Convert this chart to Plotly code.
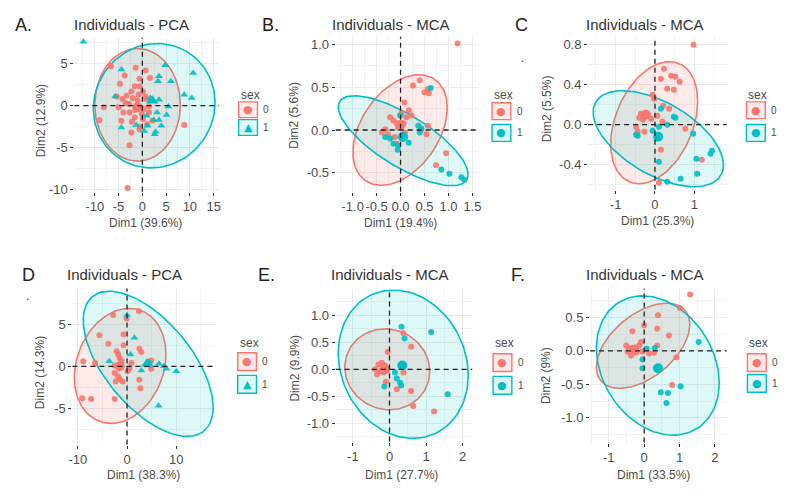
import numpy as np
import plotly.graph_objects as go

W, H = 800, 503          # target window
OFF = 8                  # default page margin around the plot div
FW, FH = W - 2 * OFF, H - 2 * OFF
RED, TEAL = "#F8766D", "#00BFC4"
RED_FILL = "rgba(248,118,109,0.15)"
TEAL_FILL = "rgba(0,191,196,0.13)"
FONT = "Liberation Sans, Arial, sans-serif"

# ---------------- Panel A : Individuals - PCA ----------------
A_x0 = [-6.6, -1.4, 0.7, -3.7, -0.6, 1.6, -4.7, -1.6, -0.6, -2.3, 0.1, -3.3, -5.4, -2.0, 0.7, -1.0, -2.8, -8.1, -5.0, 1.4,
        -4.0, -2.7, -0.1, 1.4, -1.6, 0.1, -4.4, 2.1, -0.5, -0.6, -2.3, -9.0, 8.8, -2.7, -3.1, 0.7, -4.2,
        -1.5, -3.5, 0.3, -2.2, -0.8, 1.0]
A_y0 = [4.7, 4.5, 4.2, 3.6, 3.2, 3.3, 2.6, 2.3, 2.3, 1.7, 1.7, 1.2, 1.1, 0.9, 1.1, 0.6, 0.2, -0.2, -0.2, -0.1,
        -0.8, -0.8, -1.0, -0.8, -1.4, -1.6, -1.8, -1.8, -2.5, -2.8, -3.2, -1.7, -2.3, -4.7, -9.8, 0.8, 0.8,
        -0.5, 0.3, -0.4, -1.9, 1.3, -2.2]
A_x1 = [-12.4, -4.4, 4.8, 10.7, 3.5, 3.3, 6.0, -5.7, 8.8, 10.4, 1.7, 3.5, 5.5, 3.1, 5.1, 0.9, 2.4, 3.5, -1.3, -4.4,
        2.8, 2.6, 0.4, 1.1, 4.0]
A_y1 = [7.6, 4.3, 4.8, 3.9, 3.5, 2.9, 2.9, 1.1, 1.3, 0.9, 0.9, 0.7, -0.1, -0.8, -1.1, -1.2, -1.7, -1.7, -2.3, -2.6,
        -3.1, -3.4, -3.0, -2.4, -2.4]
A_mean0 = [-1.0, -0.2]
A_mean1 = [2.1, 0.6]
A_ell0 = [-1.0, 0.1, 9.0, 6.7, 0.0]      # cx, cy, half-width, half-height, tilt
A_ell1 = [2.5, 0.0, 12.8, 7.4, 0.05]
A_xticks = [-10, -5, 0, 5, 10, 15]
A_xlabels = ["-10", "-5", "0", "5", "10", "15"]
A_yticks = [-10, -5, 0, 5]
A_ylabels = ["-10", "-5", "0", "5"]

# ---------------- Panel B : Individuals - MCA ----------------
B_x0 = [1.19, 0.26, 0.40, 0.50, 0.57, 0.59, 0.08, 0.17, 0.02, 0.12, 0.23, -0.22, -0.15, -0.08, -0.01, 0.06, -0.05,
        -0.32, -0.39, -0.26, -0.12, 0.09, 0.43, 0.57, 0.54, 0.95, 0.74, -0.08]
B_y0 = [1.01, 0.52, 0.58, 0.44, 0.48, 0.43, 0.32, 0.23, 0.20, 0.15, 0.17, 0.15, 0.11, 0.08, 0.07, 0.08, 0.03,
        0.01, -0.03, -0.05, -0.08, -0.03, 0.00, 0.05, -0.05, -0.27, -0.41, -0.16]
B_x1 = [0.63, -0.01, 0.37, 0.43, 0.40, -0.32, -0.22, 0.17, -0.05, -0.06, -0.15, 0.85, 1.02, 1.27, 1.33]
B_y1 = [0.49, 0.17, 0.05, 0.02, -0.03, -0.08, -0.10, -0.15, -0.18, -0.23, -0.16, -0.46, -0.51, -0.55, -0.58]
B_mean0 = [0.0, 0.06]
B_mean1 = [0.05, -0.08]
B_ell0 = [-0.01, 0.0, 0.985, 0.645, 0.4]
B_ell1 = [0.055, -0.125, 1.355, 0.525, -0.75]
B_xticks = [-1.0, -0.5, 0.0, 0.5, 1.0, 1.5]
B_xlabels = ["-1.0", "-0.5", "0.0", "0.5", "1.0", "1.5"]
B_yticks = [-0.5, 0.0, 0.5, 1.0]
B_ylabels = ["-0.5", "0.0", "0.5", "1.0"]

# ---------------- Panel C : Individuals - MCA ----------------
C_x0 = [0.98, 0.23, 0.41, 0.52, 0.63, 0.15, 0.31, 0.48, -0.06, -0.02, 0.21, 0.36, -0.36, -0.23, -0.40, -0.31, -0.10,
        0.19, 0.06, 0.77, -0.48, -0.44, -0.27, 0.15, 1.19, 0.10]
C_y0 = [0.80, 0.56, 0.49, 0.48, 0.43, 0.46, 0.36, 0.35, 0.30, 0.26, 0.19, 0.16, 0.11, 0.10, 0.07, 0.05, 0.06,
        0.03, 0.09, -0.04, -0.02, -0.07, -0.07, -0.25, -0.35, -0.58]
C_x1 = [0.15, 0.48, 0.52, 0.31, 0.10, -0.06, -0.48, -0.44, 0.10, 0.97, 1.41, 1.45, 1.05, 1.07, 0.65, 0.31]
C_y1 = [0.16, 0.08, 0.07, 0.00, -0.02, -0.06, -0.10, -0.11, -0.37, -0.09, -0.29, -0.26, -0.34, -0.49, -0.54, -0.57]
C_mean0 = [-0.23, 0.10]
C_mean1 = [0.08, -0.12]
C_ell0 = [-0.02, 0.02, 1.105, 0.61, 0.35]
C_ell1 = [0.085, -0.14, 1.655, 0.48, -0.55]
C_xticks = [-1, 0, 1]
C_xlabels = ["-1", "0", "1"]
C_yticks = [-0.4, 0.0, 0.4, 0.8]
C_ylabels = ["-0.4", "0.0", "0.4", "0.8"]

# ---------------- Panel D : Individuals - PCA ----------------
D_x0 = [-2.8, 2.4, -0.1, -5.6, -3.8, -0.7, 2.5, 2.9, -2.1, -1.8, -1.5, -1.1, -2.5, 0.9, -8.9, -6.5, 0.5, 0.1, -2.5,
        -1.8, -1.5, -2.3, -0.9, 2.5, 4.9, -9.1, -7.3, -2.5, 2.7, 4.9, -0.7]
D_y0 = [6.1, 6.6, 5.7, 3.7, 2.7, 3.8, 2.1, 1.7, 1.8, 1.4, 1.0, 0.6, 0.1, 0.4, 0.6, 0.4, -0.2, -0.6, -0.8,
        -1.2, -1.5, -1.8, -1.8, -1.6, -0.3, -3.8, -3.9, -3.9, -2.6, 0.7, 2.5]
D_x1 = [0.0, 1.5, 0.7, -3.6, 4.5, 4.2, 6.5, 7.5, 8.0, 10.0, 6.4, 2.9]
D_y1 = [6.1, 3.4, 1.4, 0.6, 0.5, 0.1, 0.3, 0.0, -0.3, -0.6, -4.7, -0.5]
D_mean0 = [-1.5, 0.0]
D_mean1 = [4.1, 0.3]
D_ell0 = [-1.4, 0.05, 9.3, 6.85, 0.2]
D_ell1 = [4.3, 0.3, 13.2, 8.65, -0.6]
D_xticks = [-10, 0, 10]
D_xlabels = ["-10", "0", "10"]
D_yticks = [-5, 0, 5]
D_ylabels = ["-5", "0", "5"]

# ---------------- Panel E : Individuals - MCA ----------------
E_x0 = [0.38, 0.59, -0.05, -0.30, -0.21, -0.12, -0.39, -0.25, -0.34, -0.16, 0.38, -0.10, 0.20, 0.59, 0.65, 1.22]
E_y0 = [0.67, 0.42, 0.32, 0.09, 0.12, 0.07, 0.00, -0.03, -0.09, -0.06, -0.06, -0.23, -0.37, -0.40, -0.68, -0.78]
E_x1 = [0.33, 1.14, 0.41, 0.20, 0.29, 0.32, -0.14, 1.59, 0.15]
E_y1 = [0.79, 0.69, 0.57, -0.17, -0.25, -0.30, -0.32, -0.46, -0.06]
E_mean0 = [-0.12, 0.0]
E_mean1 = [0.35, 0.07]
E_ell0 = [-0.06, 0.0, 1.16, 0.75, -0.05]
E_ell1 = [0.375, 0.095, 1.775, 1.375, -0.15]
E_xticks = [-1, 0, 1, 2]
E_xlabels = ["-1", "0", "1", "2"]
E_yticks = [-1.0, -0.5, 0.0, 0.5, 1.0]
E_ylabels = ["-1.0", "-0.5", "0.0", "0.5", "1.0"]

# ---------------- Panel F : Individuals - MCA ----------------
F_x0 = [1.30, 1.01, 0.39, 0.00, -0.33, 0.37, 0.70, 0.37, -0.51, -0.42, -0.47, -0.28, -0.14, -0.09, -0.37, -0.23,
        -0.05, 0.14, 0.28, 0.91, 0.79]
F_y0 = [0.84, 0.64, 0.53, 0.38, 0.29, 0.33, 0.23, 0.08, 0.08, 0.04, -0.01, 0.02, 0.08, 0.13, -0.07, -0.03,
        -0.01, -0.04, -0.03, -0.10, -0.51]
F_x1 = [1.54, 0.07, -0.05, 0.30, 0.47, 0.67, 1.03, 0.63, -0.05]
F_y1 = [0.13, 0.03, -0.26, 0.04, -0.62, -0.63, -0.53, -0.78, -0.13]
F_mean0 = [-0.28, 0.02]
F_mean1 = [0.39, -0.26]
F_ell0 = [-0.03, 0.075, 1.32, 0.635, 0.5]
F_ell1 = [0.385, -0.22, 1.735, 1.04, -0.25]
F_xticks = [-1, 0, 1, 2]
F_xlabels = ["-1", "0", "1", "2"]
F_yticks = [-1.0, -0.5, 0.0, 0.5]
F_ylabels = ["-1.0", "-0.5", "0.0", "0.5"]

titles = ["Individuals - PCA", "Individuals - MCA", "Individuals - MCA",
          "Individuals - PCA", "Individuals - MCA", "Individuals - MCA"]
letters = ["A.", "B.", "C", "D", "E.", "F."]
xtitles = ["Dim1 (39.6%)", "Dim1 (19.4%)", "Dim1 (25.3%)", "Dim1 (38.3%)", "Dim1 (27.7%)", "Dim1 (33.5%)"]
ytitles = ["Dim2 (12.9%)", "Dim2 (5.6%)", "Dim2 (5.5%)", "Dim2 (14.3%)", "Dim2 (9.9%)", "Dim2 (9%)"]
group_labels = ["0", "1"]


def px(x):
    return (x - OFF) / FW


def py(y):
    return 1 - (y - OFF) / FH


def ellipse(p, n=120):
    cx, cy, rx, ry, rho = p
    t = np.linspace(0, 2 * np.pi, n)
    return cx + rx * np.cos(t), cy + ry * (rho * np.cos(t) + np.sqrt(1 - rho ** 2) * np.sin(t))


def minor_between(ticks, lo, hi):
    step = ticks[1] - ticks[0]
    v = ticks[0] - step / 2
    while v > lo:
        v -= step
    v += step
    vals = []
    while v < hi:
        vals.append(round(v, 6))
        v += step
    return vals


# layout geometry (pixels): plot box, axis ranges, and text placements
panels = [
    dict(d=dict(x0=A_x0, y0=A_y0, x1=A_x1, y1=A_y1, m0=A_mean0, m1=A_mean1, e0=A_ell0, e1=A_ell1,
                xt=A_xticks, xl=A_xlabels, yt=A_yticks, yl=A_ylabels), tri=True,
         box=(71, 38, 217, 194), xr=(-14.3, 16.1), yr=(-10.24, 8.1),
         title=(129, 25), letter=(9, 25), xtitle=(143, 226), ytitle=(37, 122),
         leg=(237, 96, 103, 121, 19, 16)),
    dict(d=dict(x0=B_x0, y0=B_y0, x1=B_x1, y1=B_y1, m0=B_mean0, m1=B_mean1, e0=B_ell0, e1=B_ell1,
                xt=B_xticks, xl=B_xlabels, yt=B_yticks, yl=B_ylabels), tri=False,
         box=(335, 37, 478, 194), xr=(-1.355, 1.60), yr=(-0.72, 1.09),
         title=(391, 25), letter=(259, 25), xtitle=(400, 226), ytitle=(293, 117),
         leg=(493, 96, 104, 126, 19, 17)),
    dict(d=dict(x0=C_x0, y0=C_y0, x1=C_x1, y1=C_y1, m0=C_mean0, m1=C_mean1, e0=C_ell0, e1=C_ell1,
                xt=C_xticks, xl=C_xlabels, yt=C_yticks, yl=C_ylabels), tri=False,
         box=(590, 37, 730, 192), xr=(-1.70, 1.82), yr=(-0.65, 0.88),
         title=(648, 25), letter=(514, 25), xtitle=(660, 224), ytitle=(548, 110),
         leg=(750, 96, 103, 126, 19, 17)),
    dict(d=dict(x0=D_x0, y0=D_y0, x1=D_x1, y1=D_y1, m0=D_mean0, m1=D_mean1, e0=D_ell0, e1=D_ell1,
                xt=D_xticks, xl=D_xlabels, yt=D_yticks, yl=D_ylabels), tri=True,
         box=(69, 292, 213, 450), xr=(-11.1, 17.85), yr=(-9.32, 9.27),
         title=(122, 278), letter=(16, 278), xtitle=(141, 481), ytitle=(37, 377),
         leg=(236, 347, 357, 380, 19, 18)),
    dict(d=dict(x0=E_x0, y0=E_y0, x1=E_x1, y1=E_y1, m0=E_mean0, m1=E_mean1, e0=E_ell0, e1=E_ell1,
                xt=E_xticks, xl=E_xlabels, yt=E_yticks, yl=E_ylabels), tri=False,
         box=(335, 293, 473, 447), xr=(-1.47, 2.26), yr=(-1.34, 1.48),
         title=(390, 278), letter=(255, 278), xtitle=(402, 481), ytitle=(293, 373),
         leg=(494, 347, 358, 381, 19, 18)),
    dict(d=dict(x0=F_x0, y0=F_y0, x1=F_x1, y1=F_y1, m0=F_mean0, m1=F_mean1, e0=F_ell0, e1=F_ell1,
                xt=F_xticks, xl=F_xlabels, yt=F_yticks, yl=F_ylabels), tri=False,
         box=(592, 292, 730, 448), xr=(-1.53, 2.33), yr=(-1.37, 0.93),
         title=(648, 278), letter=(510, 278), xtitle=(656, 481), ytitle=(548, 380),
         leg=(751, 347, 358, 379, 19, 18)),
]

fig = go.Figure()
annotations = []
shapes = []
layout_axes = {}

for i, p in enumerate(panels):
    n = i + 1
    xa = "x" if n == 1 else f"x{n}"
    ya = "y" if n == 1 else f"y{n}"
    d = p["d"]
    sym1 = "triangle-up" if p["tri"] else "circle"

    for e, col, fill in ((d["e0"], RED, RED_FILL), (d["e1"], TEAL, TEAL_FILL)):
        ex, ey = ellipse(e)
        fig.add_trace(go.Scatter(x=ex, y=ey, mode="lines", fill="toself", fillcolor=fill,
                                 line=dict(color=col, width=1.6), xaxis=xa, yaxis=ya,
                                 showlegend=False, hoverinfo="skip"))
    fig.add_trace(go.Scatter(x=d["x0"], y=d["y0"], mode="markers", xaxis=xa, yaxis=ya, showlegend=False,
                             marker=dict(color=RED, size=6, symbol="circle", opacity=0.9, line=dict(width=0))))
    fig.add_trace(go.Scatter(x=d["x1"], y=d["y1"], mode="markers", xaxis=xa, yaxis=ya, showlegend=False,
                             marker=dict(color=TEAL, size=7 if p["tri"] else 6, symbol=sym1, opacity=0.9,
                                         line=dict(width=0))))
    fig.add_trace(go.Scatter(x=[d["m0"][0]], y=[d["m0"][1]], mode="markers", xaxis=xa, yaxis=ya,
                             showlegend=False, marker=dict(color=RED, size=10, symbol="circle")))
    fig.add_trace(go.Scatter(x=[d["m1"][0]], y=[d["m1"][1]], mode="markers", xaxis=xa, yaxis=ya,
                             showlegend=False, marker=dict(color=TEAL, size=11 if p["tri"] else 10, symbol=sym1)))

    bx0, by0, bx1, by1 = p["box"]
    common = dict(showgrid=True, gridcolor="#EBEBEB", gridwidth=1, zeroline=False, showline=False,
                  ticks="outside", ticklen=3, tickwidth=1, tickcolor="#333333", tickangle=0,
                  tickfont=dict(family=FONT, size=13, color="#4D4D4D"), fixedrange=True)
    layout_axes["xaxis" if n == 1 else f"xaxis{n}"] = dict(
        common, domain=[px(bx0), px(bx1)], range=list(p["xr"]), anchor=ya,
        tickmode="array", tickvals=d["xt"], ticktext=d["xl"],
        minor=dict(tickmode="array", tickvals=minor_between(d["xt"], *p["xr"]), showgrid=True,
                   gridcolor="#F3F3F3", gridwidth=0.7, ticks=""))
    layout_axes["yaxis" if n == 1 else f"yaxis{n}"] = dict(
        common, domain=[py(by1), py(by0)], range=list(p["yr"]), anchor=xa,
        tickmode="array", tickvals=d["yt"], ticktext=d["yl"],
        minor=dict(tickmode="array", tickvals=minor_between(d["yt"], *p["yr"]), showgrid=True,
                   gridcolor="#F3F3F3", gridwidth=0.7, ticks=""))

    # dashed reference lines at zero
    shapes.append(dict(type="line", xref=f"{xa} domain", yref=ya, x0=0, x1=1, y0=0, y1=0,
                       line=dict(color="#222222", width=1.3, dash="5px,4px")))
    shapes.append(dict(type="line", yref=f"{ya} domain", xref=xa, y0=0, y1=1, x0=0, x1=0,
                       line=dict(color="#222222", width=1.3, dash="5px,4px")))

    # titles
    annotations.append(dict(x=px(p["title"][0]), y=py(p["title"][1]), xref="paper", yref="paper",
                            text=titles[i], showarrow=False, xanchor="center", yanchor="middle",
                            font=dict(family=FONT, size=15, color="#333333")))
    annotations.append(dict(x=px(p["letter"][0]), y=py(p["letter"][1]), xref="paper", yref="paper",
                            text=letters[i], showarrow=False, xanchor="left", yanchor="middle",
                            font=dict(family=FONT, size=18, color="#222222")))
    annotations.append(dict(x=px(p["xtitle"][0]), y=py(p["xtitle"][1]), xref="paper", yref="paper",
                            text=xtitles[i], showarrow=False, xanchor="center", yanchor="middle",
                            font=dict(family=FONT, size=12, color="#4D4D4D")))
    annotations.append(dict(x=px(p["ytitle"][0]), y=py(p["ytitle"][1]), xref="paper", yref="paper",
                            text=ytitles[i], showarrow=False, xanchor="center", yanchor="middle",
                            textangle=-90, font=dict(family=FONT, size=12, color="#4D4D4D")))

    # legend ("sex") drawn as keys
    lx, ty, k0, k1, kw, kh = p["leg"]
    annotations.append(dict(x=px(lx), y=py(ty), xref="paper", yref="paper", text="sex", showarrow=False,
                            xanchor="left", yanchor="middle",
                            font=dict(family=FONT, size=12, color="#4D4D4D")))
    for g, (ky, col, fill) in enumerate(((k0, RED, RED_FILL), (k1, TEAL, TEAL_FILL))):
        shapes.append(dict(type="rect", xref="paper", yref="paper", x0=px(lx), x1=px(lx + kw),
                           y0=py(ky + kh), y1=py(ky), line=dict(color=col, width=1.4), fillcolor=fill))
        glyph = "▲" if (g == 1 and p["tri"]) else "●"
        annotations.append(dict(x=px(lx + kw / 2), y=py(ky + kh / 2), xref="paper", yref="paper",
                                text=glyph, showarrow=False, xanchor="center", yanchor="middle",
                                font=dict(family="DejaVu Sans", size=11, color=col)))
        annotations.append(dict(x=px(lx + kw + 4), y=py(ky + kh / 2), xref="paper", yref="paper",
                                text=group_labels[g], showarrow=False, xanchor="left", yanchor="middle",
                                font=dict(family=FONT, size=10, color="#4D4D4D")))

# stray dots present in the source image
for (sx, sy) in ((524, 50), (20, 300)):
    annotations.append(dict(x=px(sx), y=py(sy), xref="paper", yref="paper", text=".", showarrow=False,
                            font=dict(family=FONT, size=12, color="#333333")))

fig.update_layout(width=FW, height=FH, margin=dict(l=0, r=0, t=0, b=0),
                  paper_bgcolor="white", plot_bgcolor="white", showlegend=False,
                  annotations=annotations, shapes=shapes, **layout_axes)

fig.write_html("out.html")
